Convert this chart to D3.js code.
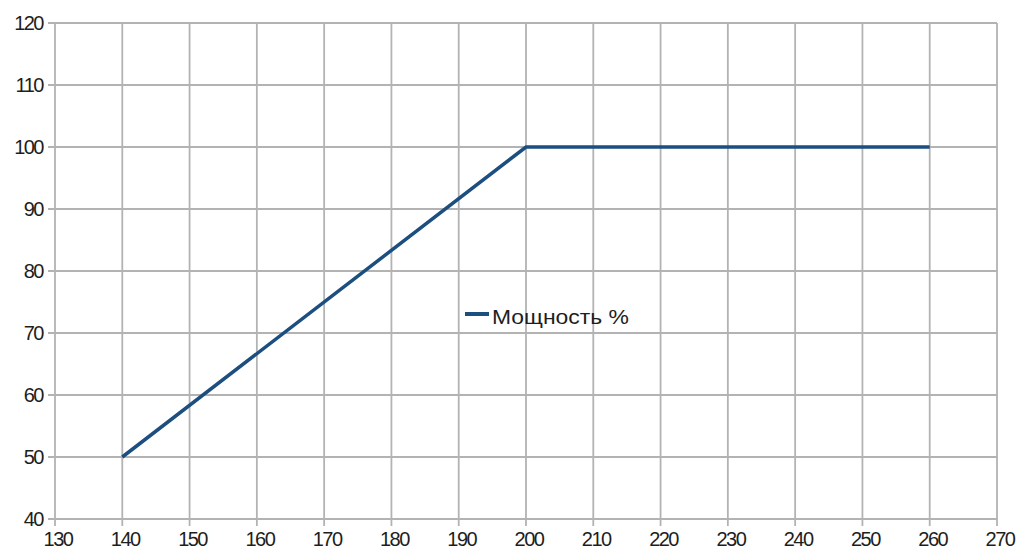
<!DOCTYPE html>
<html>
<head>
<meta charset="utf-8">
<script src="https://d3js.org/d3.v7.min.js"></script>
<style>
body { margin: 0; background: #fff; }
text { font-family: "Liberation Sans", Arial, sans-serif; }
</style>
</head>
<body>
<script>
// данные графика
var temp = [140, 200, 260];
var power = [50, 100, 100];
var x_ticks = [130, 140, 150, 160, 170, 180, 190, 200, 210, 220, 230, 240, 250, 260, 270];
var y_ticks = [40, 50, 60, 70, 80, 90, 100, 110, 120];
var series_name = "Мощность %";

var width = 1021;
var height = 552;

var svg = d3.select("body")
            .append("svg")
            .attr("width", width)
            .attr("height", height);

var x_scale = d3.scaleLinear()
                .domain([130, 270])
                .range([55, 997]);

var y_scale = d3.scaleLinear()
                .domain([40, 120])
                .range([519, 23]);

// вертикальная сетка
svg.append("g")
   .selectAll("line")
   .data(x_ticks)
   .enter()
   .append("line")
   .attr("x1", function(d) { return x_scale(d); })
   .attr("x2", function(d) { return x_scale(d); })
   .attr("y1", y_scale(120))
   .attr("y2", y_scale(40) + 7)
   .attr("stroke", "#b3b3b3")
   .attr("stroke-width", 1.8);

// горизонтальная сетка
svg.append("g")
   .selectAll("line")
   .data(y_ticks)
   .enter()
   .append("line")
   .attr("y1", function(d) { return y_scale(d); })
   .attr("y2", function(d) { return y_scale(d); })
   .attr("x1", x_scale(130) - 7)
   .attr("x2", x_scale(270))
   .attr("stroke", "#b3b3b3")
   .attr("stroke-width", 1.8);

// подписи оси X
svg.append("g")
   .selectAll("text")
   .data(x_ticks)
   .enter()
   .append("text")
   .text(function(d) { return d; })
   .attr("x", function(d) { return x_scale(d) + 3; })
   .attr("y", 546)
   .attr("text-anchor", "middle")
   .attr("font-size", 20)
   .attr("letter-spacing", -1.5)
   .attr("fill", "#1e1e1e");

// подписи оси Y
svg.append("g")
   .selectAll("text")
   .data(y_ticks)
   .enter()
   .append("text")
   .text(function(d) { return d; })
   .attr("x", 43)
   .attr("y", function(d) { return y_scale(d) + 7; })
   .attr("text-anchor", "end")
   .attr("font-size", 20)
   .attr("letter-spacing", -1.5)
   .attr("fill", "#1e1e1e");

// линия
var line = d3.line()
             .x(function(d, i) { return x_scale(temp[i]); })
             .y(function(d) { return y_scale(d); });

svg.append("path")
   .datum(power)
   .attr("d", line)
   .attr("fill", "none")
   .attr("stroke", "#1c4f80")
   .attr("stroke-width", 3.5);

// легенда
var legend = svg.append("g")
                .attr("transform", "translate(465,314)");

legend.append("line")
      .attr("x1", 0)
      .attr("x2", 24)
      .attr("y1", 0)
      .attr("y2", 0)
      .attr("stroke", "#1c4f80")
      .attr("stroke-width", 4);

legend.append("text")
      .text(series_name)
      .attr("x", 27)
      .attr("y", 10)
      .attr("font-size", 20)
      .attr("textLength", 137)
      .attr("lengthAdjust", "spacingAndGlyphs")
      .attr("fill", "#1e1e1e");
</script>
</body>
</html>
